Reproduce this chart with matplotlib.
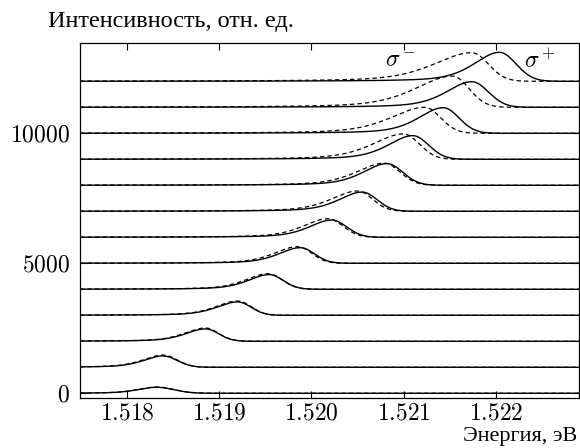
import numpy as np
import matplotlib.pyplot as plt

plt.rcParams['mathtext.fontset'] = 'cm'
plt.rcParams['font.family'] = ['Liberation Serif', 'DejaVu Serif']

# peak parameters of the 13 spectra (offset 1000 each), sigma+ (solid) and sigma- (dashed)
e_plus = [1.51832, 1.51839, 1.51885, 1.51920, 1.51954, 1.51988, 1.52022,
          1.52055, 1.52082, 1.52110, 1.52143, 1.52174, 1.52204]
a_plus = [230, 435, 475, 515, 565, 600, 665, 740, 835, 910, 985, 985, 1115]
wl_plus = [0.00024, 0.00025, 0.00026, 0.00027, 0.00027, 0.00028, 0.00029,
           0.00030, 0.00031, 0.00032, 0.00032, 0.00033, 0.00033]

e_minus = [1.51832, 1.51839, 1.51885, 1.51920, 1.51953, 1.51985, 1.52018,
           1.52050, 1.52079, 1.52100, 1.52123, 1.52153, 1.52174]
a_minus = [240, 470, 510, 550, 600, 640, 715, 780, 850, 975, 1000, 1200, 1100]
wl_minus = [0.00024, 0.00026, 0.00027, 0.00028, 0.00029, 0.00030, 0.00032,
            0.00034, 0.00036, 0.00040, 0.00044, 0.00048, 0.00049]

w_right = [0.00022, 0.00018, 0.00017, 0.00017, 0.00018, 0.00018, 0.00019,
           0.00019, 0.00020, 0.00020, 0.00020, 0.00021, 0.00021]

offsets = [1000 * k for k in range(13)]
xticks = [1.518, 1.519, 1.520, 1.521, 1.522]
yticks = [0, 5000, 10000]


def line(e, e0, amp, wl, wr, eta=0.5):
    # pseudo-Voigt on the low-energy side, gaussian on the high-energy side
    d = e - e0
    r = (d / wl) ** 2
    left = eta / (1 + r) + (1 - eta) * np.exp(-np.log(2) * r)
    right = np.exp(-np.log(2) * (d / wr) ** 2)
    return amp * np.where(d < 0, left, right)


E = np.linspace(1.5174, 1.5230, 1500)

fig = plt.figure(figsize=(5.8, 4.48), dpi=100)
ax = fig.add_axes([0.1379, 0.1123, 0.8599, 0.7924])

for k in range(13):
    y0 = offsets[k]
    ax.plot(E, y0 + line(E, e_minus[k], a_minus[k], wl_minus[k], w_right[k]),
            color='black', lw=0.9, dashes=(3.5, 2.5))
    ax.plot(E, y0 + line(E, e_plus[k], a_plus[k], wl_plus[k], w_right[k]),
            color='black', lw=1.0)

ax.set_xlim(1.51749, 1.52290)
ax.set_ylim(-170, 13485)
ax.set_xticks(xticks, labels=['$%.3f$' % t for t in xticks])
ax.set_yticks(yticks, labels=['$%d$' % t for t in yticks])
ax.tick_params(direction='in', length=5, width=0.8, labelsize=17,
               top=True, right=True)
ax.tick_params(axis='x', pad=4)
ax.tick_params(axis='y', pad=7)
for s in ax.spines.values():
    s.set_linewidth(0.9)

ax.text(1.52080, 12520, r'$\sigma^-$', fontsize=17)
ax.text(1.52231, 12520, r'$\sigma^+$', fontsize=17)

fig.text(0.083, 0.952, 'Интенсивность, отн. ед.', fontsize=17.5, va='center')
fig.text(0.995, 0.004, 'Энергия, эВ', fontsize=16, ha='right', va='bottom')

fig.savefig('out.png', dpi=100)
